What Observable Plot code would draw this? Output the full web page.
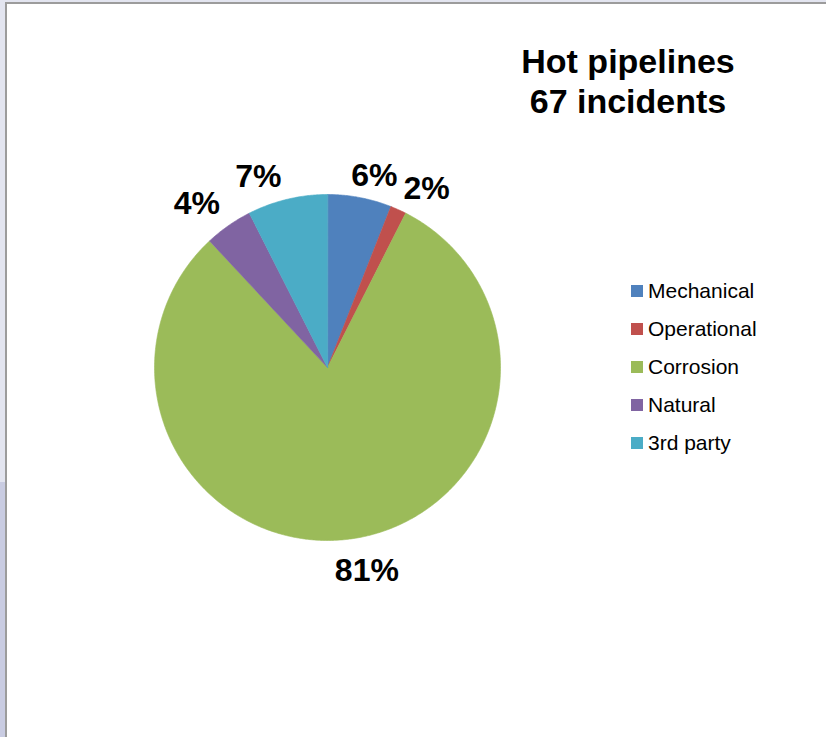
<!DOCTYPE html>
<html>
<head>
<meta charset="utf-8">
<script src="https://cdn.jsdelivr.net/npm/d3@7"></script>
<script src="https://cdn.jsdelivr.net/npm/@observablehq/plot@0.6"></script>
<style>
  html, body { margin: 0; padding: 0; background: #ffffff; }
  #frame { position: relative; width: 826px; height: 737px; overflow: hidden; background: #e3e5f0; font-family: "Liberation Sans", Arial, sans-serif; }
  #strip { position: absolute; left: 0; top: 482px; width: 5px; bottom: 0; background: #c9cce2; }
  #inner { position: absolute; left: 5px; top: 2px; right: 0; bottom: 0; background: #ffffff; border-left: 2px solid #9c9c9c; border-top: 2px solid #9c9c9c; }
  #chart { position: absolute; left: 0; top: 0; }
  #title { position: absolute; left: 478px; width: 300px; top: 41px; text-align: center; font-weight: bold; font-size: 34px; line-height: 40px; color: #000; }
  #legend { position: absolute; left: 631px; top: 272px; }
  .item { position: relative; height: 38px; font-size: 21px; color: #000; }
  .sw { position: absolute; left: 0; top: 13px; width: 12px; height: 12px; }
  .lab { position: absolute; left: 17px; top: 7px; line-height: 24px; white-space: nowrap; }
</style>
</head>
<body>
<div id="frame">
  <div id="strip"></div>
  <div id="inner"></div>
  <div id="chart"></div>
  <div id="title">Hot pipelines<br>67 incidents</div>
  <div id="legend"></div>
</div>
<script>
const categories = ["Mechanical", "Operational", "Corrosion", "Natural", "3rd party"];
const counts = [4, 1, 54, 3, 5];
const percentLabels = ["6%", "2%", "81%", "4%", "7%"];
const colors = ["#4F81BD", "#C0504D", "#9BBB59", "#8064A2", "#4BACC6"];

const records = categories.map((c, i) => ({category: c, value: counts[i], label: percentLabels[i]}));
const arcs = d3.pie().sort(null).value(d => d.value)(records);

// slice outlines in unit-circle data space (y up, angle from 12 o'clock clockwise)
const slicePts = [];
for (const a of arcs) {
  const cat = a.data.category;
  slicePts.push({category: cat, x: 0, y: 0});
  const n = Math.max(2, Math.ceil((a.endAngle - a.startAngle) / (Math.PI / 360)));
  for (let k = 0; k <= n; k++) {
    const t = a.startAngle + (a.endAngle - a.startAngle) * k / n;
    slicePts.push({category: cat, x: Math.sin(t), y: Math.cos(t)});
  }
}

const FS = 32;          // label font size (px)
const PX = 173;         // pixels per data unit (pie radius)
const R = 1.045;
const labelPts = arcs.map(a => {
  const m = (a.startAngle + a.endAngle) / 2;
  const w = FS * (0.556 * (a.data.label.length - 1) + 0.889) / PX; // estimated width, data units
  return {label: a.data.label, x: R * Math.sin(m), y: R * Math.cos(m), s: Math.sin(m), c: Math.cos(m), w};
});

// simple repel for start-anchored labels in the upper right that overlap
const rightTop = labelPts.filter(d => d.s > 0 && d.c >= 0).sort((a, b) => a.x - b.x);
const gap = 6 / PX;
for (let i = 1; i < rightTop.length; i++) {
  const p = rightTop[i - 1], q = rightTop[i];
  const overlap = (p.x + p.w + gap) - q.x;
  if (overlap > 0 && Math.abs(p.y - q.y) < FS / PX) {
    p.x -= overlap / 2;
    q.x += overlap / 2;
  }
}

const W = 826, H = 737;
const font = {fontFamily: "Liberation Sans, Arial, sans-serif", fontSize: FS, fontWeight: "bold", fill: "#000"};

const plot = Plot.plot({
  width: W, height: H,
  marginLeft: 154, marginRight: 326, marginTop: 194, marginBottom: 197,
  x: {domain: [-1, 1], axis: null},
  y: {domain: [-1, 1], axis: null},
  color: {domain: categories, range: colors},
  style: {background: "transparent"},
  marks: [
    Plot.line(slicePts, {x: "x", y: "y", z: "category", fill: "category", stroke: "category", strokeWidth: 0.6, curve: "linear-closed"}),
    Plot.text(rightTop, {x: "x", y: "y", text: "label", textAnchor: "start", lineAnchor: "bottom", dx: -4, dy: -4, ...font}),
    Plot.text(labelPts.filter(d => d.s < 0 && d.c >= 0), {x: "x", y: "y", text: "label", textAnchor: "end", lineAnchor: "bottom", dx: -4, dy: -5, ...font}),
    Plot.text(labelPts.filter(d => d.c < 0), {x: "x", y: "y", text: "label", textAnchor: "middle", lineAnchor: "top", dx: 14, dy: 12, ...font})
  ]
});
document.getElementById("chart").appendChild(plot);

const legend = document.getElementById("legend");
categories.forEach((c, i) => {
  const item = document.createElement("div");
  item.className = "item";
  const sw = document.createElement("div");
  sw.className = "sw";
  sw.style.background = colors[i];
  const lab = document.createElement("div");
  lab.className = "lab";
  lab.textContent = c;
  item.appendChild(sw);
  item.appendChild(lab);
  legend.appendChild(item);
});
</script>
</body>
</html>
